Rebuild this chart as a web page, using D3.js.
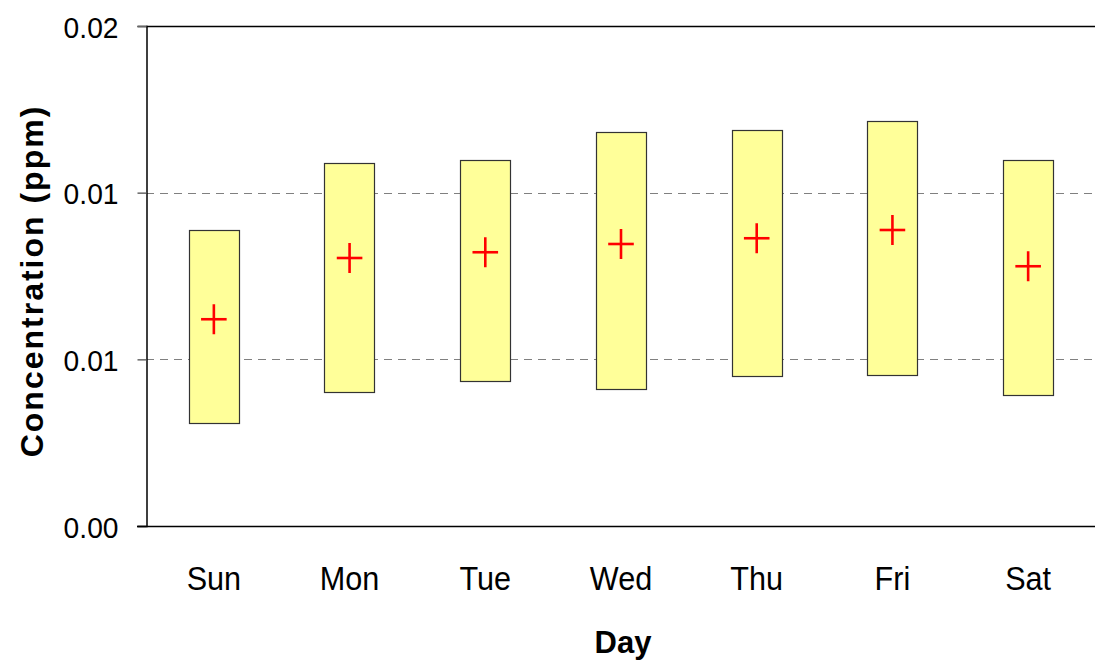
<!DOCTYPE html>
<html>
<head>
<meta charset="utf-8">
<script src="https://cdn.jsdelivr.net/npm/d3@7"></script>
<style>
  html, body { margin: 0; padding: 0; background: #fff; }
  svg { display: block; }
  text { font-family: "Liberation Sans", Arial, sans-serif; fill: #000; }
</style>
</head>
<body>
<svg id="chart" width="1095" height="664"></svg>
<script>
const days = ["Sun", "Mon", "Tue", "Wed", "Thu", "Fri", "Sat"];
const maxVals = [0.01184, 0.01451, 0.01463, 0.01575, 0.01585, 0.01619, 0.01463];
const minVals = [0.00413, 0.00536, 0.00581, 0.00547, 0.00603, 0.00603, 0.00524];
const meanVals = [0.00827, 0.01072, 0.01095, 0.01128, 0.01151, 0.01184, 0.01039];
const yTickVals = [0, 0.02 / 3, 0.04 / 3, 0.02];
const yDomain = [0, 0.02];

(function () {
const svg = d3.select("#chart");
const mLeft = 146, mRight = 1096, mTop = 26, mBottom = 526;

const x = d3.scaleBand().domain(days).range([mLeft, mRight]).paddingInner(0).paddingOuter(0);
const y = d3.scaleLinear().domain(yDomain).range([mBottom, mTop]);

const fmt = d3.format(".2f");

// gridlines (interior only)
svg.append("g").selectAll("line")
  .data(yTickVals.filter(v => v > 0 && v < yDomain[1]))
  .join("line")
  .attr("x1", mLeft).attr("x2", mRight)
  .attr("y1", d => Math.round(y(d)) + 0.5).attr("y2", d => Math.round(y(d)) + 0.5)
  .attr("stroke", "#808080").attr("stroke-width", 1)
  .attr("stroke-dasharray", "8,6");

// top border
svg.append("line")
  .attr("x1", mLeft).attr("x2", mRight)
  .attr("y1", y(yDomain[1]) + 0.5).attr("y2", y(yDomain[1]) + 0.5)
  .attr("stroke", "#000").attr("stroke-width", 1.5);

// bars (min-max range)
const bw = x.bandwidth() * 0.371;
const idx = d3.range(days.length);
svg.append("g").selectAll("rect")
  .data(idx)
  .join("rect")
  .attr("x", i => Math.round(x(days[i]) + x.bandwidth() / 2 - bw / 2) + 0.5)
  .attr("y", i => Math.round(y(maxVals[i])) + 0.5)
  .attr("width", Math.round(bw))
  .attr("height", i => Math.round(y(minVals[i]) - y(maxVals[i])))
  .attr("fill", "#FFFF99")
  .attr("stroke", "#333")
  .attr("stroke-width", 1.2);

// mean crosses
const cw = 12.8, ch = 15;
const crosses = svg.append("g").selectAll("g")
  .data(idx)
  .join("g")
  .attr("transform", i => `translate(${x(days[i]) + x.bandwidth() / 2},${y(meanVals[i])})`);
crosses.append("line").attr("x1", -cw).attr("x2", cw).attr("y1", 0).attr("y2", 0)
  .attr("stroke", "#FF0000").attr("stroke-width", 2.6);
crosses.append("line").attr("x1", 0).attr("x2", 0).attr("y1", -ch).attr("y2", ch)
  .attr("stroke", "#FF0000").attr("stroke-width", 2.6);

// y axis
const yAxis = d3.axisLeft(y).tickValues(yTickVals).tickSize(9).tickPadding(0).tickFormat(fmt);
const gy = svg.append("g").attr("transform", `translate(${mLeft + 0.5},0)`).call(yAxis);
gy.select(".domain").attr("stroke", "#000").attr("stroke-width", 1.5);
gy.selectAll(".tick line").attr("stroke", "#666").attr("stroke-width", 1.5);
gy.selectAll(".tick text").remove();
gy.selectAll(".tick").append("text")
  .attr("text-anchor", "end")
  .attr("transform", "translate(-28,11) scale(0.94,1)")
  .style("font-size", "30px")
  .text(d => fmt(d));

// x axis
const xAxis = d3.axisBottom(x).tickSize(0).tickFormat(d => d);
const gx = svg.append("g").attr("transform", `translate(0,${mBottom + 0.5})`).call(xAxis);
gx.select(".domain").attr("stroke", "#000").attr("stroke-width", 1.5)
  .attr("d", `M${mLeft - 9},0H${mRight}`);
gx.selectAll(".tick text").remove();
gx.selectAll(".tick").append("text")
  .attr("text-anchor", "middle")
  .attr("transform", "translate(0,63.5) scale(0.9,1)")
  .style("font-size", "34px")
  .text(d => d);

// axis titles
svg.append("text")
  .attr("transform", `translate(43,${(mTop + mBottom) / 2 + 5}) rotate(-90)`)
  .attr("text-anchor", "middle")
  .style("font-size", "32px").style("font-weight", "bold")
  .style("letter-spacing", "2px")
  .text("Concentration (ppm)");

svg.append("text")
  .attr("x", (mLeft + mRight) / 2 + 2).attr("y", 653)
  .attr("text-anchor", "middle")
  .style("font-size", "31px").style("font-weight", "bold")
  .text("Day");
})();
</script>
</body>
</html>
